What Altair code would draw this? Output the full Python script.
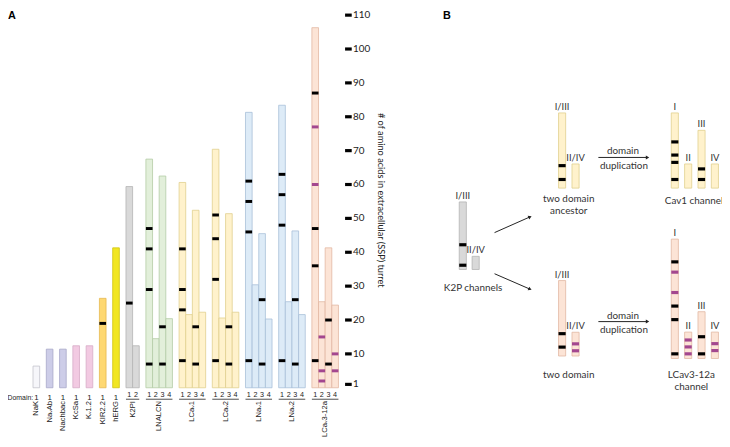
import math
import altair as alt
import pandas as pd

# ---------------- Panel A data ----------------
channels = ["NaK", "NaᵥAb", "Nachbac", "KcSa", "Kᵥ1.2", "KIR2.2", "hERG", "K2PI",
            "LNALCN", "LCaᵥ1", "LCaᵥ2", "LNaᵥ1", "LNaᵥ2", "LCaᵥ3-12a"]
turret_lengths = [
    [6.4], [11.4], [11.4], [12.4], [12.4], [26.4], [41.3], [59.4, 12.4],
    [67.5, 14.5, 62.5, 20.4],
    [60.6, 21.6, 52.4, 22.3],
    [70.4, 20.6, 51.4, 22.3],
    [81.3, 30.4, 45.5, 20.3],
    [83.4, 25.4, 46.3, 21.6],
    [106.3, 25.4, 41.3, 24.4],
]
black_marks = [
    [[]], [[]], [[]], [[]], [[]], [[19]], [[]], [[25], []],
    [[47, 41, 29, 7], [], [18, 7], []],
    [[41, 29, 23, 8], [], [18, 7], []],
    [[51, 44, 32, 8], [], [18, 7], []],
    [[61, 55, 46, 8], [], [26, 7], []],
    [[63, 57, 48, 8], [], [26, 7], []],
    [[87, 47, 36, 8], [], [20, 7], []],
]
magenta_marks = [
    [[]], [[]], [[]], [[]], [[]], [[]], [[]], [[], []],
    [[], [], [], []],
    [[], [], [], []],
    [[], [], [], []],
    [[], [], [], []],
    [[], [], [], []],
    [[77, 60], [15, 5, 2], [], [10, 5]],
]
tick_values = [1, 10, 20, 30, 40, 50, 60, 70, 80, 90, 100, 110]
axis_title = "# of amino acids in extracellular (SSP) turret"

# styles (panel A)
fills = ["#f6f6fa", "#cdcde8", "#cdcde8", "#f2cae2", "#f2cae2", "#fed872", "#f1e622",
         "#d9d9d9", "#e2efda", "#fff2cc", "#fff2cc", "#ddebf7", "#ddebf7", "#fce4d6"]
strokes = ["#c4c4cc", "#a8a8c8", "#a8a8c8", "#d6aac6", "#d6aac6", "#e6b850", "#cfc410",
           "#b4b4b4", "#b4cca6", "#e0d08e", "#e0d08e", "#a9bfd9", "#a9bfd9", "#e2b8a2"]
MAGENTA = "#a3478f"
BLACK = "#000000"

# ---------------- Panel B data ----------------
b_groups = ["K2P channels", "two domain ancestor", "Cav1 channel", "two domain", "LCav3-12a channel"]
b_domain_names = [["I/III", "II/IV"], ["I/III", "II/IV"], ["I", "II", "III", "IV"],
                  ["I/III", "II/IV"], ["I", "II", "III", "IV"]]
b_lengths = [[68.3, 13.3], [76, 24.4], [76, 24.4, 58.4, 24.4], [76.3, 24],
             [120.7, 26.7, 47.3, 26.7]]
b_black = [[[25, 4.3], []], [[22.7, 8.7], []], [[46.7, 33.4, 26, 8.7], [], [19.4, 8.7], []],
           [[22.6, 9], []], [[97.7, 53, 39.3, 4.7], [], [22, 4.7], []]]
b_magenta = [[[], []], [[], []], [[], [], [], []], [[], [12.3, 5.3]],
             [[87.3, 66.7], [18.7, 11.7, 4.7], [], [15, 8]]]
b_captions = [["K2P channels"], ["two domain", "ancestor"], ["Cav1 channel"],
              ["two domain"], ["LCav3-12a", "channel"]]
arrow_text = ["domain", "duplication"]

# layout / styles (panel B)
b_fill = ["#d9d9d9", "#fff2cc", "#fff2cc", "#fce4d6", "#fce4d6"]
b_stroke = ["#b4b4b4", "#e0d08e", "#e0d08e", "#e2b8a2", "#e2b8a2"]
b_x0 = [32.3, 132.7, 246.7, 132.7, 246.7]
b_base = [169, 251.3, 251.3, 81.5, 79]
b_pitch = [13, 13.6, 13.5, 13.6, 13.5]
b_cap_x = [46.3, 143, 269.7, 143, 267]
b_cap_dy = [19, 10.6, 13.3, 19.2, 16.7]
B_W = 7.2
dup_arrows = [(173, 224.7, 282.3), (173, 224.7, 116.3)]
diag_arrows = [(68, 206.3, 105.7, 223), (68, 164.7, 105.7, 148.3)]

# ---------------- build tables ----------------
rowsA, marksA, namesA, digitsA, underA = [], [], [], [], []
start = 5
for i, name in enumerate(channels):
    n = len(turret_lengths[i])
    for d in range(n):
        s = start + d
        rowsA.append(dict(x0=s, x1=s + 1, zero=0, value=turret_lengths[i][d],
                          fill=fills[i], stroke=strokes[i]))
        digitsA.append(dict(xc=s + 0.5, digit=str(d + 1), multi=n > 1))
        for v in black_marks[i][d]:
            marksA.append(dict(x0=s, x1=s + 1, value=v, color=BLACK))
        for v in magenta_marks[i][d]:
            marksA.append(dict(x0=s, x1=s + 1, value=v, color=MAGENTA))
    namesA.append(dict(xc=start + n / 2, name=name))
    if n > 1:
        underA.append(dict(x0=start, x1=start + n))
    start += n + 1
axis_slot = start
ticksA = [dict(x0=axis_slot, x1=axis_slot + 1, xl=axis_slot + 1.2, value=t, label=str(t))
          for t in tick_values]

dfA = pd.DataFrame(rowsA)
dfMA = pd.DataFrame(marksA)
dfNA = pd.DataFrame(namesA)
dfDA = pd.DataFrame(digitsA)
dfUA = pd.DataFrame(underA)
dfTA = pd.DataFrame(ticksA)

b_rect, b_marks, b_dl, b_caps = [], [], [], []
for g in range(len(b_groups)):
    for d, L in enumerate(b_lengths[g]):
        x0 = b_x0[g] + d * b_pitch[g]
        b_rect.append(dict(x0=x0, x1=x0 + B_W, y0=b_base[g], y1=b_base[g] + L,
                           fill=b_fill[g], stroke=b_stroke[g]))
        b_dl.append(dict(x=x0 + B_W / 2, y=b_base[g] + L + 3, text=b_domain_names[g][d]))
        for v in b_black[g][d]:
            b_marks.append(dict(x0=x0, x1=x0 + B_W, y=b_base[g] + v, color=BLACK))
        for v in b_magenta[g][d]:
            b_marks.append(dict(x0=x0, x1=x0 + B_W, y=b_base[g] + v, color=MAGENTA))
    for k, line in enumerate(b_captions[g]):
        b_caps.append(dict(x=b_cap_x[g], y=b_base[g] - b_cap_dy[g] - k * 12.4, text=line))

arrow_lines, arrow_heads, arrow_labels = [], [], []
for (xs, xe, y) in dup_arrows:
    arrow_lines.append(dict(x=xs, y=y, x2=xe - 2, y2=y))
    arrow_heads.append(dict(x=xe - 2, y=y, angle=0))
    cx = (xs + xe) / 2
    arrow_labels.append(dict(x=cx - 1, y=y + 6, text=arrow_text[0]))
    arrow_labels.append(dict(x=cx, y=y - 9, text=arrow_text[1]))
for (xs, ys, xe, ye) in diag_arrows:
    dx, dy = xe - xs, ye - ys
    L = math.hypot(dx, dy)
    ux, uy = dx / L, dy / L
    arrow_lines.append(dict(x=xs, y=ys, x2=xe - 2 * ux, y2=ye - 2 * uy))
    ang = math.degrees(math.atan2(-dy, dx)) % 360
    arrow_heads.append(dict(x=xe - 2 * ux, y=ye - 2 * uy, angle=ang))

dfBR = pd.DataFrame(b_rect)
dfBM = pd.DataFrame(b_marks)
dfBL = pd.DataFrame(b_dl)
dfBC = pd.DataFrame(b_caps)
dfAL = pd.DataFrame(arrow_lines)
dfAH = pd.DataFrame(arrow_heads)
dfAT = pd.DataFrame(arrow_labels)

# ---------------- scales ----------------
xA = alt.Scale(domain=[0, 53], range=[-8.27, 347.57])
yA = alt.Scale(domain=[0, 110], range=[381.6, 4.8])
xB = alt.Scale(domain=[0, 298], range=[424, 722])
yB = alt.Scale(domain=[0, 431], range=[431, 0])

SANS = "Liberation Sans"
HUM = "Lato"
TXT = "#222222"

# ---------------- panel A layers ----------------
barsA = alt.Chart(dfA).mark_rect(strokeWidth=0.8).encode(
    x=alt.X("x0:Q", scale=xA, axis=None), x2="x1",
    y=alt.Y("zero:Q", scale=yA, axis=None), y2="value",
    fill=alt.Fill("fill:N", scale=None), stroke=alt.Stroke("stroke:N", scale=None))

marksLayerA = alt.Chart(dfMA).mark_rule(strokeWidth=3).encode(
    x=alt.X("x0:Q", scale=xA, axis=None), x2="x1",
    y=alt.Y("value:Q", scale=yA, axis=None),
    color=alt.Color("color:N", scale=None))

ticksLayer = alt.Chart(dfTA).mark_rule(strokeWidth=3.2, color=BLACK).encode(
    x=alt.X("x0:Q", scale=xA, axis=None), x2="x1",
    y=alt.Y("value:Q", scale=yA, axis=None))

tickLabels = alt.Chart(dfTA).mark_text(align="left", baseline="middle", font=HUM,
                                       fontSize=10, color=TXT).encode(
    x=alt.X("xl:Q", scale=xA, axis=None),
    y=alt.Y("value:Q", scale=yA, axis=None),
    text="label:N")

axisTitle = alt.Chart(pd.DataFrame({"t": [axis_title]})).mark_text(
    angle=90, align="center", baseline="middle", font=HUM, fontSize=9.3,
    color=TXT).encode(x=alt.value(377), y=alt.value(192), text="t:N")

digitsSingle = alt.Chart(dfDA[~dfDA["multi"]]).mark_text(
    align="center", baseline="middle", font=SANS, fontSize=8, color=TXT).encode(
    x=alt.X("xc:Q", scale=xA, axis=None), y=alt.value(391.5), text="digit:N")

digitsMulti = alt.Chart(dfDA[dfDA["multi"]]).mark_text(
    align="center", baseline="middle", font=SANS, fontSize=7.3, color=TXT).encode(
    x=alt.X("xc:Q", scale=xA, axis=None), y=alt.value(388.5), text="digit:N")

underlines = alt.Chart(dfUA).mark_rule(strokeWidth=0.8, color=TXT).encode(
    x=alt.X("x0:Q", scale=xA, axis=None), x2="x1", y=alt.value(393.2))

namesLayer = alt.Chart(dfNA).mark_text(
    angle=270, align="right", baseline="middle", font=SANS, fontSize=7.7,
    color=TXT).encode(
    x=alt.X("xc:Q", scale=xA, axis=None), y=alt.value(395), text="name:N")

domainWord = alt.Chart(pd.DataFrame({"t": ["Domain:"]})).mark_text(
    align="right", baseline="middle", font=SANS, fontSize=7, color=TXT).encode(
    x=alt.value(25.5), y=alt.value(391.5), text="t:N")

panelLabels = alt.Chart(pd.DataFrame({"t": ["A", "B"], "px": [0, 440]})).mark_text(
    align="left", baseline="top", font=SANS, fontSize=11, fontWeight="bold",
    color=BLACK).encode(x=alt.X("px:Q", scale=alt.Scale(domain=[0, 714], range=[0, 714]), axis=None),
                        y=alt.value(0), text="t:N")

# ---------------- panel B layers ----------------
barsB = alt.Chart(dfBR).mark_rect(strokeWidth=0.8).encode(
    x=alt.X("x0:Q", scale=xB, axis=None), x2="x1",
    y=alt.Y("y0:Q", scale=yB, axis=None), y2="y1",
    fill=alt.Fill("fill:N", scale=None), stroke=alt.Stroke("stroke:N", scale=None))

marksB = alt.Chart(dfBM).mark_rule(strokeWidth=3.2).encode(
    x=alt.X("x0:Q", scale=xB, axis=None), x2="x1",
    y=alt.Y("y:Q", scale=yB, axis=None),
    color=alt.Color("color:N", scale=None))

domLabelsB = alt.Chart(dfBL).mark_text(
    align="center", baseline="alphabetic", font=HUM, fontSize=9.5, color="#333333").encode(
    x=alt.X("x:Q", scale=xB, axis=None), y=alt.Y("y:Q", scale=yB, axis=None), text="text:N")

captionsB = alt.Chart(dfBC).mark_text(
    align="center", baseline="middle", font=HUM, fontSize=10, color="#333333").encode(
    x=alt.X("x:Q", scale=xB, axis=None), y=alt.Y("y:Q", scale=yB, axis=None), text="text:N")

arrowLines = alt.Chart(dfAL).mark_rule(strokeWidth=1, color=TXT).encode(
    x=alt.X("x:Q", scale=xB, axis=None), x2="x2",
    y=alt.Y("y:Q", scale=yB, axis=None), y2="y2")

arrowHeads = alt.Chart(dfAH).mark_point(shape="triangle-right", filled=True, size=16,
                                        color=TXT, opacity=1).encode(
    x=alt.X("x:Q", scale=xB, axis=None), y=alt.Y("y:Q", scale=yB, axis=None),
    angle=alt.Angle("angle:Q", scale=None))

arrowTexts = alt.Chart(dfAT).mark_text(
    align="center", baseline="middle", font=HUM, fontSize=10, color="#333333").encode(
    x=alt.X("x:Q", scale=xB, axis=None), y=alt.Y("y:Q", scale=yB, axis=None), text="text:N")

chart = alt.layer(
    barsA, marksLayerA, ticksLayer, tickLabels, axisTitle, digitsSingle, digitsMulti,
    underlines, namesLayer, domainWord, panelLabels,
    barsB, marksB, domLabelsB, captionsB, arrowLines, arrowHeads, arrowTexts,
).resolve_scale(x="independent", y="independent").properties(
    width=722, height=431, autosize=alt.AutoSizeParams(type="none"), padding=0,
    background="white",
).configure_view(stroke=None)

chart.save("out.html", embed_options={"renderer": "svg", "actions": False})
